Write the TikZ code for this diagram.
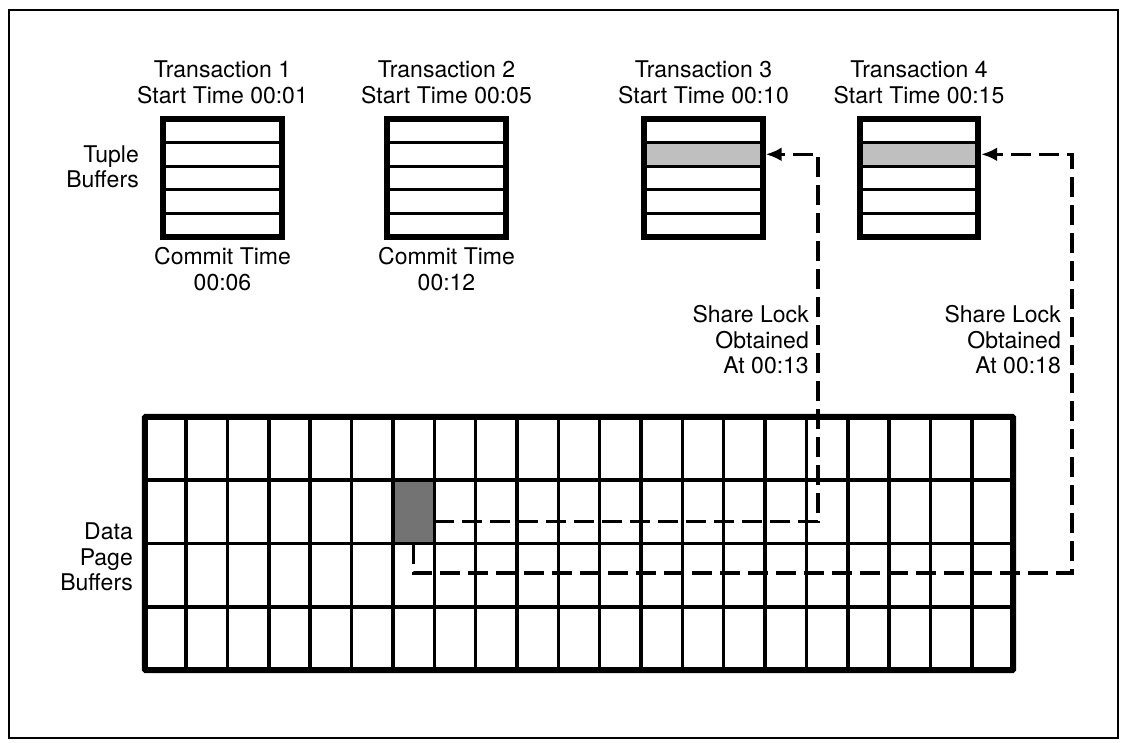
\documentclass[tikz,border=0pt]{standalone}
\usepackage{fontspec}
\setsansfont{TeX Gyre Heros}
\usepackage{tikz}
\usetikzlibrary{calc}
\usetikzlibrary{arrows.meta}
\tikzset{>={Latex[length=16pt,width=14pt]}}

\begin{document}
\begin{tikzpicture}[x=1pt,y=-1pt,font=\sffamily\fontsize{23}{25.5}\selectfont,
	buf/.style={minimum width=118pt,minimum height=118pt,inner sep=0pt},
	lbl/.style={inner sep=0pt,align=center},
	lock/.style={line width=3.5pt,dash pattern=on 20pt off 8pt}]
	\useasboundingbox (0,0) rectangle (1124,743);
	\draw[line width=2.5pt] (9,10) rectangle (1118,738);
	% tuple buffers
	\foreach \i/\x in {1/222.5,2/446.5,3/703.5,4/919}
		\node[buf] (t\i) at (\x,178) {};
	\node[fill=black!25,minimum width=118pt,minimum height=23.6pt,inner sep=0pt] (t3s) at ($(t3.north)!0.3!(t3.south)$) {};
	\node[fill=black!25,minimum width=118pt,minimum height=23.6pt,inner sep=0pt] (t4s) at ($(t4.north)!0.3!(t4.south)$) {};
	\foreach \i in {1,...,4}{
		\foreach \k in {1,...,4}
			\draw[line width=3pt] ($(t\i.north west)!\k/5!(t\i.south west)$) -- ($(t\i.north east)!\k/5!(t\i.south east)$);
		\draw[line width=6pt] (t\i.north west) rectangle (t\i.south east);
	}
	\node[lbl,above=15pt] (n1) at (t1.north) {Transaction 1\\Start Time 00:01};
	\node[lbl,above=15pt] (n2) at (t2.north) {Transaction 2\\Start Time 00:05};
	\node[lbl,above=15pt] (n3) at (t3.north) {Transaction 3\\Start Time 00:10};
	\node[lbl,above=15pt] (n4) at (t4.north) {Transaction 4\\Start Time 00:15};
	\node[lbl,below=10pt] (c1) at (t1.south) {Commit Time\\00:06};
	\node[lbl,below=10pt] (c2) at (t2.south) {Commit Time\\00:12};
	\node[lbl,align=right,anchor=east] (tb) at (139,167) {Tuple\\Buffers};
	% data page buffers
	\node[minimum width=868pt,minimum height=253pt,inner sep=0pt] (dp) at (579,543.5) {};
	\node[fill=black!55,minimum width=41.33pt,minimum height=63.25pt,inner sep=0pt] (pg) at ($(dp.north west)+(6.5*41.333,1.5*63.25)$) {};
	\foreach \c in {1,...,20}
		\draw[line width=3.5pt] ($(dp.north west)!\c/21!(dp.north east)$) -- ($(dp.south west)!\c/21!(dp.south east)$);
	\foreach \r in {1,2,3}
		\draw[line width=3.5pt] ($(dp.north west)!\r/4!(dp.south west)$) -- ($(dp.north east)!\r/4!(dp.south east)$);
	\draw[line width=6pt,rounded corners=1pt] (dp.north west) rectangle (dp.south east);
	\node[lbl,align=right,anchor=east] (db) at (133,557) {Data\\Page\\Buffers};
	% locks
	\coordinate (l3) at (818,0);
	\coordinate (l4) at (1072,573);
	\draw[lock,->] ([yshift=-10pt]pg.east) -| (l3 |- t3s.east) -- ([xshift=3pt]t3s.east);
	\draw[lock,->] (pg.south) |- (l4) |- ([xshift=3pt]t4s.east);
	\node[lbl,align=right,anchor=east] (s3) at (809,340) {Share Lock\\Obtained\\At 00:13};
	\node[lbl,align=right,anchor=east] (s4) at (1061,340) {Share Lock\\Obtained\\At 00:18};
\end{tikzpicture}
\end{document}
